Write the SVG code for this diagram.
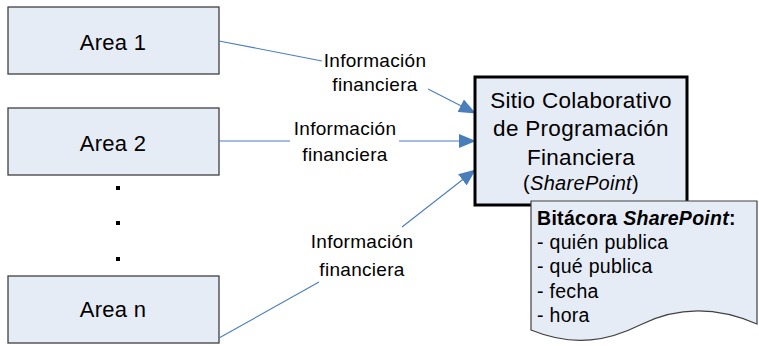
<svg xmlns="http://www.w3.org/2000/svg" width="759" height="346" viewBox="0 0 759 346">
<style>
.box{fill:#e6ecf6;stroke:#404040;stroke-width:1.3}
.t{font-family:"Liberation Sans",Arial,sans-serif;fill:#000}
.c{stroke:#4a7ebb;stroke-width:1.1;fill:none}
</style>
<defs>
<marker id="ah" markerWidth="17" markerHeight="14" refX="16" refY="7" orient="auto" markerUnits="userSpaceOnUse">
<path d="M0,0 L17,7 L0,14 Z" fill="#4a7ebb"/>
</marker>
</defs>
<rect width="759" height="346" fill="#fff"/>
<g id="area1"><rect class="box" x="8" y="7" width="211" height="67"/><text class="t" x="113" y="50" font-size="22" letter-spacing="0.3" text-anchor="middle">Area 1</text></g>
<g id="area2"><rect class="box" x="8" y="108" width="211" height="67"/><text class="t" x="113" y="151" font-size="22" letter-spacing="0.3" text-anchor="middle">Area 2</text></g>
<g id="arean"><rect class="box" x="8" y="276" width="211" height="67"/><text class="t" x="113" y="317" font-size="22" letter-spacing="0.3" text-anchor="middle">Area n</text></g>
<g id="dots" fill="#000"><rect x="116" y="186" width="4" height="4"/><rect x="116" y="221" width="4" height="4"/><rect x="116" y="257" width="4" height="4"/></g>
<g id="connectors">
<path class="c" d="M219,41 L322,61"/>
<path class="c" d="M428,89 L475,113" marker-end="url(#ah)"/>
<path class="c" d="M219,141 L290,141"/>
<path class="c" d="M399,141 L475,141" marker-end="url(#ah)"/>
<path class="c" d="M219,338 L319,282"/>
<path class="c" d="M402,227 L475,170" marker-end="url(#ah)"/>
</g>
<g id="label1" class="t" font-size="19" letter-spacing="0.3" text-anchor="middle"><text x="375" y="67">Información</text><text x="375" y="91">financiera</text></g>
<g id="label2" class="t" font-size="19" letter-spacing="0.3" text-anchor="middle"><text x="345" y="135">Información</text><text x="345" y="161">financiera</text></g>
<g id="label3" class="t" font-size="19" letter-spacing="0.3" text-anchor="middle"><text x="362" y="248">Información</text><text x="362" y="276">financiera</text></g>
<g id="sitio">
<rect x="475" y="77" width="212" height="128" fill="#e6ecf6" stroke="#000" stroke-width="3"/>
<g class="t" font-size="22.5" letter-spacing="0.3" text-anchor="middle">
<text x="581" y="108">Sitio Colaborativo</text>
<text x="581" y="136">de Programación</text>
<text x="581" y="165">Financiera</text>
<text x="581" y="190" font-size="20">(<tspan font-style="italic">SharePoint</tspan>)</text>
</g>
</g>
<g id="bitacora">
<path d="M531,201 L757,201 L757,324 C720,308 680,305 640,325 C610,340 575,348 531,330 Z" fill="#e6ecf6" stroke="#404040" stroke-width="1.2"/>
<g class="t" font-size="19.5" letter-spacing="0.3">
<text x="537" y="225" font-weight="bold">Bitácora <tspan font-style="italic">SharePoint</tspan>:</text>
<text x="537" y="249">- quién publica</text>
<text x="537" y="273">- qué publica</text>
<text x="537" y="298">- fecha</text>
<text x="537" y="322">- hora</text>
</g>
</g>
</svg>
